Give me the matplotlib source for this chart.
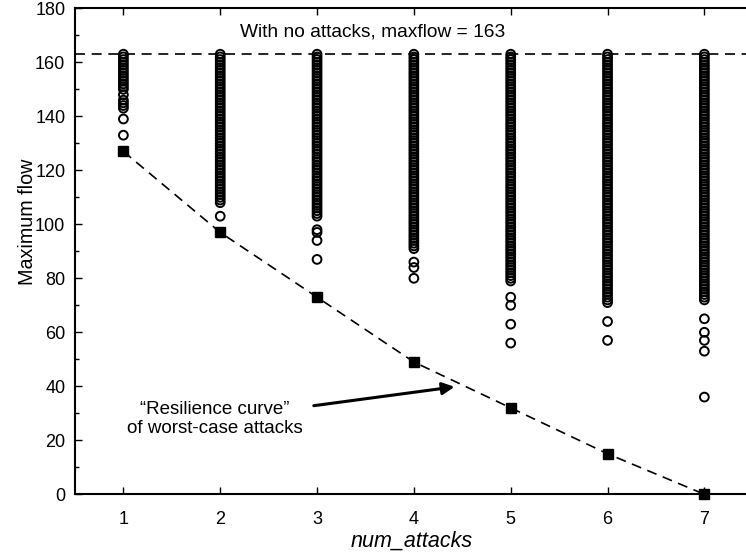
import numpy as np
import matplotlib
matplotlib.use('Agg')
import matplotlib.pyplot as plt
from matplotlib.ticker import MultipleLocator

plt.rcParams['font.family'] = ['Liberation Sans', 'DejaVu Sans']

# number of attacks (x categories)
attacks = [1, 2, 3, 4, 5, 6, 7]

# no-attack max flow
maxflow_none = 163

# worst-case attack per number of attacks (resilience curve)
worst_case = [127, 97, 73, 49, 32, 15, 0]

# column 1 is only partly dense: read individually
col1_values = [163, 162, 161, 160, 159, 158, 157, 156, 155, 154, 153, 152,
               151, 150, 148, 146, 145, 144, 143, 139, 133]

# columns 2..7: every integer flow from this low value up to 163 shows up
dense_low = [108, 103, 91, 79, 71, 72]

# isolated outliers below the dense block, columns 2..7
outliers = [
    [103],
    [98, 97, 94, 87],
    [86, 84, 80],
    [73, 70, 63, 56],
    [64, 57],
    [65, 60, 57, 53, 36],
]


def main():
    fig = plt.figure(figsize=(7.46, 5.58), dpi=100)
    ax = fig.add_axes([0.1005, 0.1142, 0.9086, 0.8709])

    xs, ys = [], []
    for v in col1_values:
        xs.append(attacks[0])
        ys.append(v)
    for i, low in enumerate(dense_low):
        for v in range(low, maxflow_none + 1):
            xs.append(attacks[i + 1])
            ys.append(v)
        for v in outliers[i]:
            xs.append(attacks[i + 1])
            ys.append(v)

    ax.scatter(xs, ys, s=40, facecolors='none', edgecolors='black',
               linewidths=1.4, zorder=3, clip_on=False)

    ax.axhline(maxflow_none, color='black', lw=1.2, dashes=(6, 4), zorder=2)
    ax.plot(attacks, worst_case, color='black', lw=1.2, dashes=(6, 4),
            marker='s', markersize=7, markerfacecolor='black',
            markeredgecolor='black', zorder=4, clip_on=False)

    ax.text(3.57, 171.3, 'With no attacks, maxflow = 163', fontsize=13.8,
            ha='center', va='center')

    ax.annotate('\u201cResilience curve\u201d\nof worst-case attacks',
                xy=(4.42, 39.8), xytext=(1.945, 27.9),
                fontsize=13.5, ha='center', va='center', linespacing=1.15,
                arrowprops=dict(arrowstyle='-|>', color='black', lw=2.2,
                                mutation_scale=18, shrinkA=6, shrinkB=0))

    ax.set_xlim(0.5, 7.5)
    ax.set_ylim(0, 180)
    ax.set_xticks(attacks)
    ax.yaxis.set_major_locator(MultipleLocator(20))
    ax.yaxis.set_minor_locator(MultipleLocator(10))
    ax.tick_params(axis='both', which='major', direction='in', length=5,
                   width=1, labelsize=13, top=True, right=False, pad=7)
    ax.tick_params(axis='y', which='minor', direction='in', length=3,
                   width=1, right=False)
    ax.tick_params(axis='x', which='major', pad=12)
    for sp in ax.spines.values():
        sp.set_linewidth(1.5)

    ax.set_xlabel('num_attacks', fontsize=15.5, style='italic')
    ax.set_ylabel('Maximum flow', fontsize=14.2)
    ax.xaxis.set_label_coords(0.497, -0.096)
    ax.yaxis.set_label_coords(-0.07, 0.56)
    ax.xaxis.label.set_va('center')
    ax.yaxis.label.set_va('center')

    fig.savefig('out.png', dpi=100)


if __name__ == '__main__':
    main()
